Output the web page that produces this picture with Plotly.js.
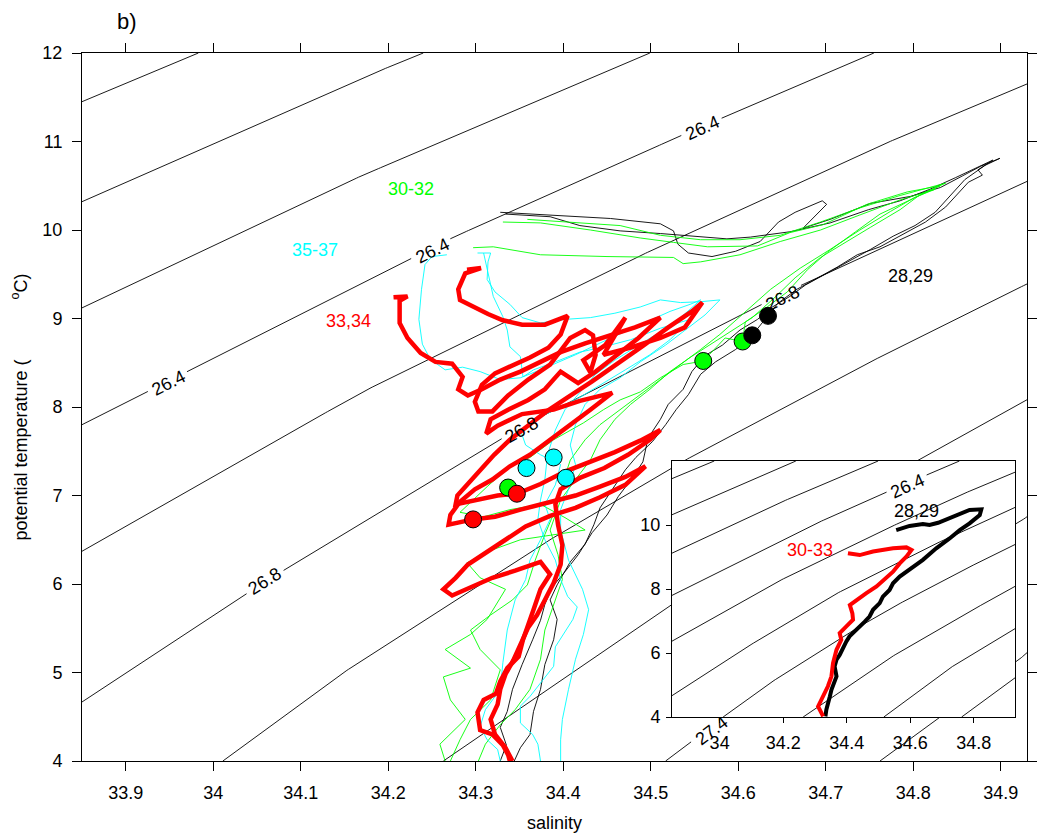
<!DOCTYPE html>
<html><head><meta charset="utf-8">
<script src="https://cdn.plot.ly/plotly-3.0.1.min.js"></script>
<style>
html,body{margin:0;padding:0;background:#fff;overflow:hidden;}
#main{position:absolute;left:0;top:0;width:1037px;height:836px;}
#inset{position:absolute;left:620px;top:440px;width:415px;height:330px;}
</style></head><body>
<div id="main"></div><div id="inset"></div>
<script>
// ---------- axis ticks ----------
const xTickVals = [33.9, 34, 34.1, 34.2, 34.3, 34.4, 34.5, 34.6, 34.7, 34.8, 34.9];
const xTickText = ['33.9', '34', '34.1', '34.2', '34.3', '34.4', '34.5', '34.6', '34.7', '34.8', '34.9'];
const yTickVals = [4, 5, 6, 7, 8, 9, 10, 11, 12];
const yTickText = ['4', '5', '6', '7', '8', '9', '10', '11', '12'];
const insetXTickVals = [34, 34.2, 34.4, 34.6, 34.8];
const insetXTickText = ['34', '34.2', '34.4', '34.6', '34.8'];
const insetYTickVals = [4, 6, 8, 10];
const insetYTickText = ['4', '6', '8', '10'];

// ---------- isopycnals (sigma-theta) ----------
const iso258S = [33.85, 33.983], iso258T = [11.45, 12.0];
const iso260S = [33.85, 34.168, 34.240], iso260T = [10.32, 11.71, 12.0];
const iso262S = [33.85, 34.168, 34.499], iso262T = [9.12, 10.606, 12.0];
const iso264S = [33.85, 34.275, 34.537, 34.755], iso264T = [7.80, 9.921, 11.077, 12.0];
const iso266S = [33.85, 34.168, 34.465, 34.751, 34.93], iso266T = [6.37, 8.158, 9.605, 10.907, 11.65];
const iso268S = [33.85, 34.059, 34.353, 34.651, 34.93], iso268T = [4.667, 6.026, 7.781, 9.280, 10.549];
const iso270S = [34.011, 34.145, 34.385, 34.526, 34.731, 34.877, 34.93], iso270T = [4.0, 4.975, 6.501, 7.329, 8.410, 9.137, 9.39];
const iso272S = [34.263, 34.526, 34.739, 34.93], iso272T = [4.0, 5.789, 7.032, 8.082];
const iso274S = [34.517, 34.717, 34.917, 34.93], iso274T = [4.0, 5.484, 6.670, 6.760];
const iso276S = [34.762, 34.917, 34.93], iso276T = [4.0, 5.111, 5.224];

// contour labels (main panel)
const isoLabelText = ['26.4', '26.4', '26.4', '26.8', '26.8', '26.8', '27.4'];
const isoLabelS = [33.949, 34.250, 34.559, 34.059, 34.352, 34.651, 34.569];
const isoLabelT = [8.272, 9.765, 11.154, 6.035, 7.744, 9.235, 4.342];
const isoLabelAngle = [-27, -27, -24, -32, -29, -26, -37];
// contour label (inset)
const insetLabelText = ['26.4'];
const insetLabelS = [34.592];
const insetLabelT = [11.22];
const insetLabelAngle = [-24];

// ---------- profiles: black 28,29 ----------
const k28S = [34.328,34.379,34.454,34.511,34.526,34.531,34.543,34.570,34.597,34.625,34.646,34.665,34.696,34.701,34.674,34.705,34.751,34.797,34.831,34.856,34.877,34.899,34.882,34.859,34.842,34.825,34.802,34.777,34.751,34.726,34.703,34.677,34.659,34.639,34.622,34.602,34.582,34.562,34.547,34.537,34.520,34.511,34.497,34.491,34.479,34.463,34.450,34.433,34.417,34.402,34.387,34.379,34.374,34.365,34.353,34.342,34.336,34.328,34.335,34.328];
const k28T = [10.20,10.17,10.13,10.07,9.99,9.84,9.74,9.70,9.76,9.87,10.09,10.20,10.33,10.29,10.02,10.12,10.30,10.38,10.48,10.61,10.72,10.81,10.73,10.57,10.38,10.20,10.05,9.93,9.78,9.64,9.52,9.38,9.25,9.13,8.99,8.87,8.70,8.58,8.40,8.20,8.03,7.86,7.65,7.38,7.20,6.99,6.78,6.58,6.33,6.14,5.96,5.77,5.59,5.37,5.09,4.81,4.56,4.38,4.18,4.00];
const k29S = [34.334,34.385,34.419,34.465,34.511,34.557,34.587,34.614,34.659,34.705,34.749,34.785,34.819,34.848,34.871,34.891,34.874,34.879,34.863,34.848,34.837,34.814,34.785,34.762,34.736,34.713,34.691,34.667,34.645,34.634,34.616,34.597,34.574,34.557,34.543,34.529,34.517,34.502,34.483,34.471,34.456,34.442,34.435,34.425,34.408,34.393,34.385,34.393,34.389,34.379,34.374,34.366,34.362,34.351,34.344];
const k29T = [10.18,10.15,10.05,9.99,9.96,9.92,9.90,9.92,9.98,10.08,10.23,10.33,10.46,10.59,10.70,10.79,10.68,10.62,10.54,10.38,10.26,10.09,9.93,9.81,9.72,9.58,9.46,9.33,9.17,9.03,8.81,8.65,8.51,8.37,8.14,7.97,7.80,7.61,7.43,7.29,7.07,6.86,6.67,6.45,6.25,5.99,5.82,5.60,5.37,5.09,4.81,4.56,4.30,4.15,4.00];

// ---------- profiles: green 30-32 ----------
const g30S = [34.331,34.374,34.431,34.488,34.526,34.565,34.622,34.659,34.697,34.747,34.793,34.831,34.816,34.785,34.762,34.734,34.702,34.679,34.656,34.633,34.608,34.605,34.585,34.560,34.537,34.511,34.488,34.465,34.446,34.423,34.389,34.362,34.339,34.313,34.282,34.309,34.339,34.374,34.402,34.425,34.391,34.351,34.320,34.290,34.305,34.334,34.313,34.294,34.265,34.294,34.263,34.271,34.288,34.259,34.265];
const g30T = [10.09,10.08,10.00,9.91,9.86,9.81,9.82,9.97,10.06,10.29,10.43,10.50,10.43,10.29,10.18,9.98,9.75,9.55,9.30,9.13,8.96,8.74,8.78,8.52,8.48,8.33,8.17,8.08,7.97,7.82,7.63,7.43,7.33,7.10,6.81,6.76,6.84,6.90,6.75,6.61,6.56,6.50,6.39,6.24,6.07,5.94,5.60,5.43,5.26,5.05,4.95,4.69,4.47,4.19,4.00];
const g31S = [34.297,34.320,34.374,34.450,34.526,34.537,34.557,34.602,34.648,34.694,34.739,34.785,34.825,34.802,34.774,34.739,34.705,34.671,34.637,34.608,34.579,34.557,34.534,34.511,34.488,34.465,34.442,34.425,34.408,34.397,34.391,34.379,34.368,34.359,34.342,34.317,34.294,34.305,34.328,34.317,34.294,34.282,34.271];
const g31T = [9.80,9.81,9.72,9.70,9.69,9.62,9.64,9.72,9.87,10.00,10.17,10.34,10.46,10.37,10.21,10.00,9.78,9.57,9.33,9.08,8.82,8.65,8.48,8.31,8.14,7.97,7.80,7.63,7.40,7.07,6.84,6.56,6.27,5.99,5.82,5.65,5.48,5.26,5.03,4.69,4.47,4.24,4.00];
const g32S = [34.359,34.414,34.465,34.511,34.557,34.602,34.648,34.694,34.739,34.785,34.837,34.808,34.785,34.751,34.722,34.694,34.665,34.642,34.616,34.591,34.568,34.545,34.522,34.499,34.477,34.459,34.442,34.431,34.414,34.397,34.385,34.394,34.399,34.389,34.379,34.374,34.362,34.345,34.328,34.311,34.303];
const g32T = [10.12,10.08,10.05,9.94,9.89,9.89,9.94,10.09,10.25,10.39,10.53,10.40,10.23,10.03,9.86,9.69,9.46,9.24,9.01,8.85,8.70,8.56,8.40,8.20,8.03,7.86,7.63,7.40,7.18,6.95,6.61,6.33,6.05,5.77,5.48,5.15,4.81,4.58,4.41,4.19,4.00];

// ---------- profiles: cyan 35-37 ----------
const c35S = [34.267,34.250,34.242,34.238,34.235,34.239,34.248,34.265,34.285,34.305,34.328,34.351,34.379,34.414,34.450,34.488,34.522,34.545,34.557,34.534,34.511,34.488,34.459,34.437,34.419,34.402,34.391,34.382,34.379,34.374,34.371,34.379,34.391,34.397,34.405,34.416,34.411,34.391,34.389,34.377,34.362,34.351,34.351,34.365,34.371,34.374];
const c35T = [9.72,9.70,9.61,9.33,8.99,8.71,8.54,8.42,8.45,8.40,8.31,8.33,8.44,8.59,8.76,8.93,9.08,9.16,9.21,9.01,8.85,8.71,8.53,8.37,8.17,7.97,7.74,7.46,7.18,6.95,6.73,6.50,6.27,6.05,5.86,5.74,5.60,5.29,5.07,4.92,4.73,4.62,4.43,4.30,4.19,4.00];
const c36S = [34.302,34.317,34.314,34.313,34.322,34.339,34.353,34.374,34.402,34.431,34.459,34.488,34.511,34.534,34.557,34.579,34.562,34.539,34.517,34.488,34.465,34.442,34.425,34.414,34.408,34.414,34.406,34.397,34.397,34.406,34.422,34.429,34.423,34.414,34.406,34.399,34.397,34.397];
const c36T = [9.74,9.74,9.64,9.44,9.30,9.16,9.01,8.95,8.99,9.01,9.06,9.13,9.21,9.18,9.19,9.21,9.04,8.87,8.70,8.51,8.33,8.20,8.03,7.80,7.57,7.35,7.07,6.84,6.61,6.27,5.94,5.71,5.43,5.15,4.81,4.47,4.24,4.00];
const c37S = [34.309,34.320,34.331,34.336,34.339,34.351,34.354,34.366,34.391,34.419,34.442,34.477,34.511,34.545,34.522,34.499,34.471,34.442,34.414,34.391,34.368,34.351,34.357,34.374,34.397,34.391,34.379,34.385,34.374,34.362,34.357,34.345,34.336,34.331,34.328,34.311,34.305,34.313,34.325,34.328];
const c37T = [9.74,9.25,9.02,8.87,8.68,8.57,8.34,8.42,8.51,8.62,8.67,8.76,8.89,8.99,8.76,8.59,8.42,8.25,8.08,7.97,7.86,7.74,7.57,7.46,7.35,7.12,6.90,6.73,6.50,6.27,6.05,5.82,5.48,5.11,4.81,4.58,4.39,4.24,4.13,4.00];

// ---------- profiles: red 33,34 ----------
const r33S = [34.206,34.222,34.213,34.213,34.222,34.237,34.254,34.273,34.285,34.280,34.291,34.307,34.328,34.351,34.374,34.397,34.425,34.454,34.482,34.511,34.486,34.459,34.437,34.417,34.397,34.379,34.360,34.337,34.317,34.312,34.325,34.353,34.389,34.419,34.456,34.431,34.408,34.385,34.362,34.339,34.319,34.299,34.282,34.271,34.269,34.297,34.322,34.351,34.383,34.414,34.442,34.471,34.494,34.471,34.442,34.414,34.385,34.357,34.334,34.311,34.291,34.277,34.263,34.273,34.294,34.319,34.345,34.374,34.385,34.374,34.366,34.354,34.349,34.336,34.328,34.323,34.309,34.302,34.305,34.319,34.331,34.337,34.339];
const r33T = [9.24,9.25,9.20,8.95,8.78,8.61,8.51,8.49,8.34,8.20,8.13,8.20,8.31,8.40,8.51,8.62,8.72,8.81,8.90,9.01,8.78,8.57,8.40,8.27,8.40,8.20,8.08,7.97,7.86,7.70,7.79,7.92,7.97,8.07,8.16,7.97,7.80,7.63,7.46,7.33,7.18,7.07,6.93,6.78,6.67,6.73,6.76,6.84,6.92,7.00,7.10,7.21,7.33,7.12,6.98,6.86,6.77,6.65,6.50,6.35,6.22,6.07,5.94,5.87,5.96,6.07,6.15,6.25,6.11,5.94,5.71,5.37,5.18,5.05,4.90,4.76,4.69,4.55,4.35,4.30,4.18,4.07,4.00];
const r34S = [34.290,34.306,34.288,34.280,34.282,34.296,34.314,34.331,34.353,34.379,34.405,34.397,34.383,34.362,34.342,34.322,34.307,34.299,34.303,34.319,34.337,34.360,34.385,34.408,34.425,34.434,34.437,34.431,34.423,34.448,34.471,34.456,34.446,34.477,34.511,34.539,34.559,34.547,34.520,34.491,34.463,34.433,34.405,34.381,34.360,34.339,34.321,34.305,34.290,34.279,34.277,34.299,34.325,34.347,34.374,34.402,34.431,34.459,34.488,34.511,34.499,34.474,34.447,34.419,34.397,34.391,34.394,34.399,34.397,34.389,34.379,34.370,34.360,34.351,34.343,34.334,34.328,34.325,34.317,34.322,34.334,34.342];
const r34T = [9.55,9.57,9.51,9.33,9.21,9.14,9.05,8.98,8.93,8.93,9.03,8.82,8.67,8.56,8.47,8.38,8.25,8.06,7.95,7.95,8.13,8.31,8.48,8.78,8.87,8.81,8.59,8.39,8.53,8.70,9.01,8.76,8.59,8.67,8.78,8.90,9.18,9.08,8.90,8.69,8.49,8.29,8.11,7.95,7.79,7.63,7.46,7.29,7.13,7.00,6.90,6.95,7.00,7.02,7.13,7.27,7.38,7.49,7.62,7.74,7.63,7.46,7.31,7.20,7.07,6.90,6.67,6.44,6.22,6.01,5.82,5.65,5.51,5.31,5.14,4.98,4.81,4.64,4.47,4.30,4.15,4.00];

// ---------- circle markers ----------
const dotGreenS = [34.337, 34.560, 34.605], dotGreenT = [7.09, 8.52, 8.74];
const dotCyanS = [34.358, 34.389, 34.403], dotCyanT = [7.31, 7.43, 7.20];
const dotBlackS = [34.616, 34.634], dotBlackT = [8.81, 9.03];
const dotRedS = [34.297, 34.347], dotRedT = [6.73, 7.02];

// ---------- group labels ----------
const groupText = ['30-32', '35-37', '33,34', '28,29'];
const groupS = [34.226, 34.116, 34.155, 34.797];
const groupT = [10.461, 9.772, 8.975, 9.478];
const groupColor = ['rgb(0,255,0)', 'rgb(0,255,255)', 'rgb(255,0,0)', '#000000'];

// ---------- inset: mean profiles ----------
const mean2829S = [34.556,34.598,34.640,34.661,34.688,34.735,34.787,34.824,34.819,34.787,34.756,34.724,34.682,34.640,34.598,34.567,34.546,34.535,34.514,34.504,34.483,34.472,34.457,34.441,34.425,34.409,34.399,34.389,34.378,34.368,34.362,34.368,34.359,34.352,34.347,34.341,34.336,34.333];
const mean2829T = [9.84,9.97,10.03,10.00,10.07,10.26,10.47,10.49,10.31,10.05,9.84,9.58,9.27,8.91,8.60,8.39,8.18,7.97,7.76,7.56,7.35,7.14,6.98,6.83,6.67,6.52,6.36,6.15,5.94,5.79,5.58,5.27,5.06,4.85,4.64,4.44,4.23,4.02];
const mean3033S = [34.404,34.441,34.483,34.546,34.588,34.604,34.588,34.567,34.546,34.525,34.494,34.462,34.431,34.410,34.418,34.420,34.399,34.378,34.383,34.368,34.357,34.352,34.341,34.326,34.310,34.326];
const mean3033T = [9.12,9.06,9.17,9.27,9.30,9.22,9.01,8.80,8.54,8.34,8.08,7.87,7.66,7.50,7.24,7.04,6.83,6.62,6.41,6.10,5.68,5.27,4.96,4.64,4.33,4.02];
const insetGroupText = ['28,29', '30-33'];
const insetGroupS = [34.620, 34.284];
const insetGroupT = [10.437, 9.22];
const insetGroupColor = ['#000000', 'rgb(255,0,0)'];

// ================= drawing =================
const FONT = 'Liberation Sans, Arial, Helvetica, sans-serif';
const isoS = [iso258S, iso260S, iso262S, iso264S, iso266S, iso268S, iso270S, iso272S, iso274S, iso276S];
const isoT = [iso258T, iso260T, iso262T, iso264T, iso266T, iso268T, iso270T, iso272T, iso274T, iso276T];

// break a contour line where a label sits (kx, ky: pixels per data unit)
function cutLine(S, T, lS, lT, kx, ky, r) {
  const xs = [], ys = [];
  let prevNull = true;
  function add(s, t) {
    let hidden = false;
    for (let k = 0; k < lS.length; k++) {
      const dx = (s - lS[k]) * kx, dy = (t - lT[k]) * ky;
      if (dx * dx + dy * dy < r * r) { hidden = true; break; }
    }
    if (hidden) { if (!prevNull) { xs.push(null); ys.push(null); prevNull = true; } }
    else { xs.push(s); ys.push(t); prevNull = false; }
  }
  for (let i = 0; i < S.length - 1; i++) {
    const dx = (S[i + 1] - S[i]) * kx, dy = (T[i + 1] - T[i]) * ky;
    const n = Math.max(1, Math.ceil(Math.hypot(dx, dy) / 2));
    for (let j = 0; j < n; j++) add(S[i] + (S[i + 1] - S[i]) * j / n, T[i] + (T[i + 1] - T[i]) * j / n);
  }
  add(S[S.length - 1], T[T.length - 1]);
  return { x: xs, y: ys };
}

function lineTrace(x, y, color, width) {
  return { type: 'scatter', mode: 'lines', x: x, y: y, line: { color: color, width: width }, hoverinfo: 'skip', showlegend: false };
}
function dotTrace(x, y, color) {
  return { type: 'scatter', mode: 'markers', x: x, y: y, marker: { color: color, size: 17, line: { color: '#000', width: 1 } }, hoverinfo: 'skip', showlegend: false };
}

const GREEN = 'rgb(0,255,0)', CYAN = 'rgb(0,255,255)', RED = 'rgb(255,0,0)', BLACK = '#000000';

const mainTraces = [];
for (let i = 0; i < isoS.length; i++) {
  const c = cutLine(isoS[i], isoT[i], isoLabelS, isoLabelT, 875, 88.5, 21);
  mainTraces.push(lineTrace(c.x, c.y, BLACK, 0.9));
}
mainTraces.push(lineTrace(k28S, k28T, BLACK, 0.9));
mainTraces.push(lineTrace(k29S, k29T, BLACK, 0.9));
mainTraces.push(lineTrace(g30S, g30T, GREEN, 0.9));
mainTraces.push(lineTrace(g31S, g31T, GREEN, 0.9));
mainTraces.push(lineTrace(g32S, g32T, GREEN, 0.9));
mainTraces.push(lineTrace(c35S, c35T, CYAN, 0.9));
mainTraces.push(lineTrace(c36S, c36T, CYAN, 0.9));
mainTraces.push(lineTrace(c37S, c37T, CYAN, 0.9));
mainTraces.push(lineTrace(r33S, r33T, RED, 4.5));
mainTraces.push(lineTrace(r34S, r34T, RED, 4.5));
mainTraces.push(dotTrace(dotGreenS, dotGreenT, GREEN));
mainTraces.push(dotTrace(dotCyanS, dotCyanT, CYAN));
mainTraces.push(dotTrace(dotBlackS, dotBlackT, BLACK));
mainTraces.push(dotTrace(dotRedS, dotRedT, RED));

const axisBase = {
  showgrid: false, zeroline: false, showline: true, linecolor: '#000', linewidth: 1,
  mirror: 'ticks', ticks: 'outside', ticklen: 9, tickwidth: 1, tickcolor: '#000',
  tickfont: { family: FONT, size: 18, color: '#000' }, fixedrange: true
};

const mainAnn = [];
for (let i = 0; i < isoLabelText.length; i++) {
  mainAnn.push({ xref: 'x', yref: 'y', x: isoLabelS[i], y: isoLabelT[i], text: isoLabelText[i], textangle: isoLabelAngle[i],
    showarrow: false, xanchor: 'center', yanchor: 'middle', font: { family: FONT, size: 18, color: '#000' } });
}
for (let i = 0; i < groupText.length; i++) {
  mainAnn.push({ xref: 'x', yref: 'y', x: groupS[i], y: groupT[i], text: groupText[i], showarrow: false,
    xanchor: 'center', yanchor: 'middle', font: { family: FONT, size: 18, color: groupColor[i] } });
}
mainAnn.push({ xref: 'paper', yref: 'paper', x: 0.0476, y: 1.0442, text: 'b)', showarrow: false,
  xanchor: 'center', yanchor: 'middle', font: { family: FONT, size: 22, color: '#000' } });

const mainLayout = {
  width: 1037, height: 836,
  margin: { l: 82, r: 10, t: 53, b: 75 },
  paper_bgcolor: '#fff', plot_bgcolor: '#fff', showlegend: false,
  xaxis: Object.assign({}, axisBase, {
    range: [33.85, 34.93], tickmode: 'array', tickvals: xTickVals, ticktext: xTickText, ticklabelstandoff: 6,
    title: { text: 'salinity', font: { family: FONT, size: 18, color: '#000' }, standoff: 14 }
  }),
  yaxis: Object.assign({}, axisBase, {
    range: [4, 12], tickmode: 'array', tickvals: yTickVals, ticktext: yTickText, ticklabelstandoff: 6,
    title: { text: 'potential temperature (' + '\u00a0'.repeat(12) + '<sup>o</sup>C)', font: { family: FONT, size: 18, color: '#000' }, standoff: 10 }
  }),
  annotations: mainAnn
};

Plotly.newPlot('main', mainTraces, mainLayout, { staticPlot: true, displayModeBar: false });

// ---------- inset ----------
const insetTraces = [];
for (let i = 0; i < isoS.length; i++) {
  const c = cutLine(isoS[i], isoT[i], insetLabelS, insetLabelT, 317.6, 32.05, 21);
  insetTraces.push(lineTrace(c.x, c.y, BLACK, 0.9));
}
insetTraces.push(lineTrace(mean2829S, mean2829T, BLACK, 4));
insetTraces.push(lineTrace(mean3033S, mean3033T, RED, 4));

const insetAnn = [];
for (let i = 0; i < insetLabelText.length; i++) {
  insetAnn.push({ xref: 'x', yref: 'y', x: insetLabelS[i], y: insetLabelT[i], text: insetLabelText[i], textangle: insetLabelAngle[i],
    showarrow: false, xanchor: 'center', yanchor: 'middle', font: { family: FONT, size: 18, color: '#000' } });
}
for (let i = 0; i < insetGroupText.length; i++) {
  insetAnn.push({ xref: 'x', yref: 'y', x: insetGroupS[i], y: insetGroupT[i], text: insetGroupText[i], showarrow: false,
    xanchor: 'center', yanchor: 'middle', font: { family: FONT, size: 18, color: insetGroupColor[i] } });
}

const insetAxis = Object.assign({}, axisBase, { mirror: true, ticklen: 5 });
const insetLayout = {
  width: 415, height: 330,
  margin: { l: 52, r: 20, t: 21, b: 53 },
  paper_bgcolor: 'rgba(0,0,0,0)', plot_bgcolor: '#fff', showlegend: false,
  xaxis: Object.assign({}, insetAxis, { range: [33.85, 34.93], tickmode: 'array', tickvals: insetXTickVals, ticktext: insetXTickText, ticklabelstandoff: 4 }),
  yaxis: Object.assign({}, insetAxis, { range: [4, 12], tickmode: 'array', tickvals: insetYTickVals, ticktext: insetYTickText, ticklabelstandoff: 2 }),
  annotations: insetAnn
};
Plotly.newPlot('inset', insetTraces, insetLayout, { staticPlot: true, displayModeBar: false });
</script></body></html>
